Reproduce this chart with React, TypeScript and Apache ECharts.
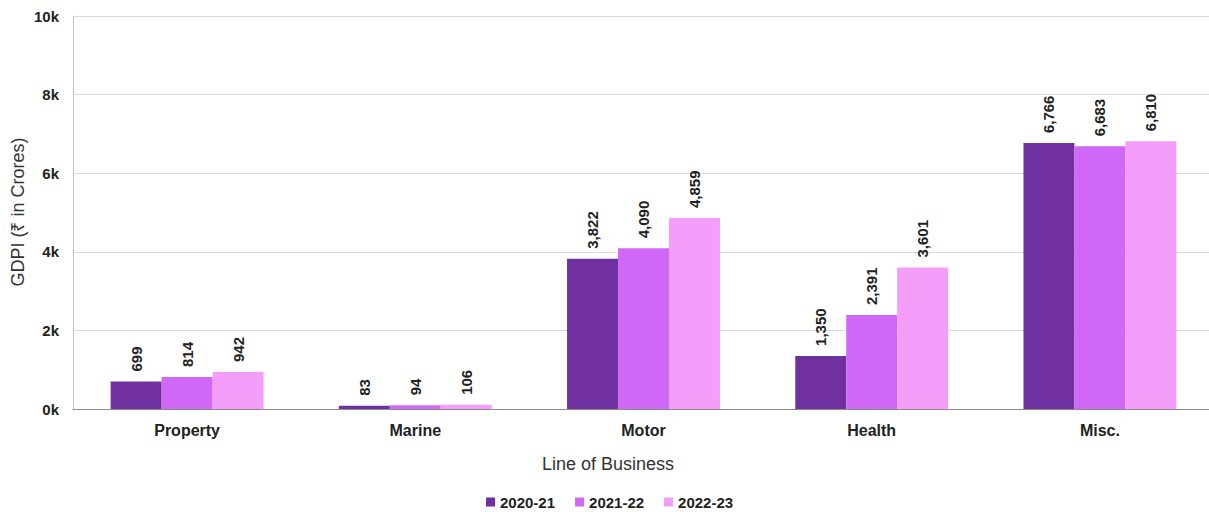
import React, { useEffect, useRef } from "react";
import * as echarts from "echarts";

const categories = ["Property", "Marine", "Motor", "Health", "Misc."];
const seriesNames = ["2020-21", "2021-22", "2022-23"];
const values2020 = [699, 83, 3822, 1350, 6766];
const values2021 = [814, 94, 4090, 2391, 6683];
const values2022 = [942, 106, 4859, 3601, 6810];
const colors = ["#7030A0", "#D167F6", "#F49DFB"];

const FONT = "Liberation Sans, Arial, sans-serif";

export default function App() {
  const ref = useRef<HTMLDivElement>(null);

  useEffect(() => {
    if (!ref.current) return;
    const chart = echarts.init(ref.current, null, { renderer: "svg" });
    const data = [values2020, values2021, values2022];
    chart.setOption({
      animation: false,
      textStyle: { fontFamily: FONT },
      // plot area runs past the right edge of the visible frame
      grid: { left: 73, top: 16, width: 1141, height: 393, containLabel: false },
      legend: {
        top: 494,
        left: 486,
        padding: 0,
        itemWidth: 9,
        itemHeight: 9,
        itemGap: 20,
        icon: "rect",
        textStyle: {
          fontFamily: FONT,
          fontSize: 15,
          fontWeight: "bold",
          color: "#222",
          lineHeight: 16,
        },
        data: seriesNames,
      },
      xAxis: {
        type: "category",
        data: categories,
        axisTick: { show: false },
        axisLine: { lineStyle: { color: "#8c8c8c", width: 1 } },
        axisLabel: { fontFamily: FONT, fontSize: 16, fontWeight: "bold", color: "#222", margin: 13 },
      },
      yAxis: {
        type: "value",
        min: 0,
        max: 10000,
        interval: 2000,
        axisLine: { show: true, lineStyle: { color: "#bfbfbf" } },
        axisTick: { show: false },
        splitLine: { lineStyle: { color: "#d9d9d9" } },
        axisLabel: {
          fontFamily: FONT,
          fontSize: 15,
          fontWeight: "bold",
          color: "#222",
          margin: 14,
          formatter: (v: number) => `${v / 1000}k`,
        },
      },
      graphic: [
        {
          type: "text",
          x: 18,
          y: 212,
          rotation: Math.PI / 2,
          style: {
            text: "GDPI (₹ in Crores)",
            fontFamily: FONT,
            fontSize: 18,
            fill: "#333",
            align: "center",
            verticalAlign: "middle",
          },
        },
        {
          type: "text",
          x: 608,
          y: 464,
          style: {
            text: "Line of Business",
            fontFamily: FONT,
            fontSize: 18,
            fill: "#333",
            align: "center",
            verticalAlign: "middle",
          },
        },
      ],
      series: seriesNames.map((name, i) => ({
        name,
        type: "bar",
        data: data[i],
        barGap: "0%",
        barCategoryGap: "33%",
        itemStyle: { color: colors[i] },
        label: {
          show: true,
          position: "top",
          rotate: 90,
          align: "left",
          verticalAlign: "middle",
          distance: 10,
          fontFamily: FONT,
          fontSize: 15,
          fontWeight: "bold",
          color: "#222",
          formatter: (p: any) => Number(p.value).toLocaleString("en-US"),
        },
      })),
    });
    return () => chart.dispose();
  }, []);

  return (
    <div
      style={{
        position: "absolute",
        left: 0,
        top: 0,
        width: 1209,
        height: 512,
        overflow: "hidden",
        background: "#fff",
      }}
    >
      <div ref={ref} style={{ width: 1220, height: 512 }} />
    </div>
  );
}
